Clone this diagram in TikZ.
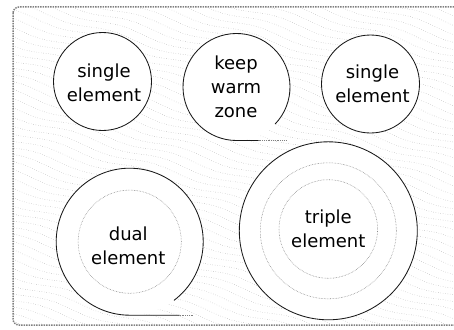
\documentclass[tikz,border=0pt]{standalone}
\usepackage{fontspec}
\setmainfont{DejaVu Sans}
\begin{document}
\begin{tikzpicture}[x=1pt,y=1pt,
  ring/.style={draw=black!90, line width=0.85pt},
  inner ring/.style={draw=black!50, line width=0.55pt, densely dotted},
  label text/.style={font=\fontsize{18}{24}\selectfont, align=center, text=black},
  texture/.style={draw=black!40, line width=0.4pt, dotted},
  tiny mark/.style={draw=black!50, line width=0.8pt, densely dotted},
  plate/.style={draw=black!50, line width=1.5pt, densely dotted, rounded corners=6pt}]
\useasboundingbox (0,0) rectangle (454,-329);
% background texture
\begin{scope}
  \clip[rounded corners=6pt] (13,-7) rectangle (470,-325);
  \foreach \i in {-18,...,42} {
    \draw[texture] plot[domain=0:470, samples=70, smooth] (\x, {-(\i*8) - 0.3*\x + 2.5*sin(\x*4 + \i*37)});
  }
\end{scope}
\draw[plate] (13,-7) rectangle (470,-325);
% white burner areas
\fill[white] (102.5,-81.5) circle[radius=49];
\fill[white] (236.5,-87) circle[radius=53.5];
\fill[white] (370.5,-84) circle[radius=49];
\fill[white] (129.7,-241.7) circle[radius=73.5];
\fill[white] (328.3,-230.8) circle[radius=89];
% single element left
\node[ring, circle, minimum size=98pt, inner sep=0pt] (s1) at (102.5,-81.5) {};
\node[label text] (t1) at (104,-82.5) {single\\element};
% keep warm zone
\coordinate (kwc) at (236.5,-87);
\draw[ring] ([shift={(-44:53.5)}]kwc) arc[start angle=-44, end angle=270, radius=53.5] coordinate (kwb) -- ++(22,0) coordinate (kwe);
\draw[tiny mark] (kwe) -- ++(28,0);
\node[label text] (t2) at (236,-86.7) {keep\\warm\\zone};
% single element right
\node[ring, circle, minimum size=98pt, inner sep=0pt] (s3) at (370.5,-84) {};
\node[label text] (t3) at (372.5,-84.2) {single\\element};
% dual element
\coordinate (dc) at (129.7,-241.7);
\draw[ring] ([shift={(-53:73.5)}]dc) arc[start angle=-53, end angle=270, radius=73.5] coordinate (db) -- ++(50,0) coordinate (de);
\draw[tiny mark] (de) -- ++(14,0);
\draw[inner ring] (dc) circle[radius=51.6];
\node[label text] (t4) at (128.3,-245.5) {dual\\element};
% triple element
\node[ring, circle, minimum size=178pt, inner sep=0pt] (s5) at (328.3,-230.8) {};
\draw[inner ring] (s5.center) circle[radius=68];
\draw[inner ring] (328.3,-229) circle[radius=49.3];
\node[label text] (t5) at (328.3,-229) {triple\\element};
\end{tikzpicture}
\end{document}
